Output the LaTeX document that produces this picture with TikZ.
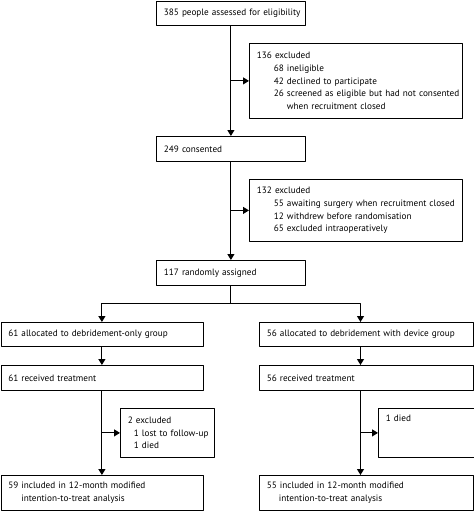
\documentclass[tikz,border=0pt]{standalone}
\usepackage{fontspec}
\setmainfont{PT Sans}
\usetikzlibrary{arrows.meta}
\newcommand{\subline}[2]{\mbox{\hspace*{#1}#2}}
\begin{document}
\begin{tikzpicture}[x=1pt,y=-1pt,line join=round,>={Triangle[length=6pt,width=7pt]},font=\fontsize{9.2}{12.7}\selectfont]
            \tikzset{box/.style={draw,line width=0.8pt,inner xsep=7.5pt,inner ysep=0pt,align=left,anchor=north west},
                     link/.style={line width=1.1pt}}
            \useasboundingbox (0,0) rectangle (474,512);
            \node[box,text width=134pt,minimum height=24pt] (assess) at (156,1) {\subline{0pt}{385 people assessed for eligibility}};
            \node[box,text width=198pt,minimum height=75pt] (excl1) at (249,43) {136 excluded\\
                \subline{17pt}{68 ineligible}\\
                \subline{17pt}{42 declined to participate}\\
                \subline{17pt}{26 screened as eligible but had not consented}\\
                \subline{30pt}{when recruitment closed}};
            \node[box,text width=134pt,minimum height=25pt] (consent) at (156,136) {249 consented};
            \node[box,text width=198pt,minimum height=62pt] (excl2) at (249,179) {132 excluded\\
                \subline{17pt}{55 awaiting surgery when recruitment closed}\\
                \subline{17pt}{12 withdrew before randomisation}\\
                \subline{17pt}{65 excluded intraoperatively}};
            \node[box,text width=134pt,minimum height=25pt] (random) at (156,260) {117 randomly assigned};
            \node[box,text width=187pt,minimum height=24pt] (allocL) at (0.5,322) {\subline{0pt}{61 allocated to debridement-only group}};
            \node[box,text width=199pt,minimum height=24pt] (allocR) at (259,322) {\subline{0pt}{56 allocated to debridement with device group}};
            \node[box,text width=187pt,minimum height=25pt] (recvL) at (0.5,365) {61 received treatment};
            \node[box,text width=199pt,minimum height=25pt] (recvR) at (259,365) {56 received treatment};
            \node[box,text width=79pt,minimum height=49pt] (exclL) at (120,408) {2 excluded\\
                \subline{6pt}{1 lost to follow-up}\\
                \subline{6pt}{1 died}};
            \node[box,text width=81pt,minimum height=49pt] (exclR) at (378,408) {1 died\\ \strut\\ \strut};
            \node[box,text width=187pt,minimum height=35pt] (finalL) at (0.5,475) {\subline{0pt}{59 included in 12-month modified}\\
                \subline{13pt}{intention-to-treat analysis}};
            \node[box,text width=199pt,minimum height=35pt] (finalR) at (259,475) {\subline{0pt}{55 included in 12-month modified}\\
                \subline{12pt}{intention-to-treat analysis}};
            \coordinate (splitL) at (101,303.5);
            \coordinate (splitR) at (360.5,303.5);
            \draw[link,->] (assess) -- (consent);
            \draw[link,->] (assess |- excl1.west) -- (excl1.west);
            \draw[link,->] (consent) -- (random);
            \draw[link,->] (consent |- excl2.west) -- (excl2.west);
            \draw[link] (random) -- (random |- splitL);
            \draw[link,<->] (allocL) |- (splitR) -- (splitR |- allocR.north);
            \draw[link,->] (allocL) -- (recvL);
            \draw[link,->] (allocR.south -| splitR) -- (recvR.north -| splitR);
            \draw[link,->] (recvL) -- (finalL);
            \draw[link,->] (recvL |- exclL.west) -- (exclL.west);
            \draw[link,->] (recvR.south -| splitR) -- (finalR.north -| splitR);
            \draw[link,->] (exclR.west -| splitR) -- (exclR.west);
\end{tikzpicture}
\end{document}
